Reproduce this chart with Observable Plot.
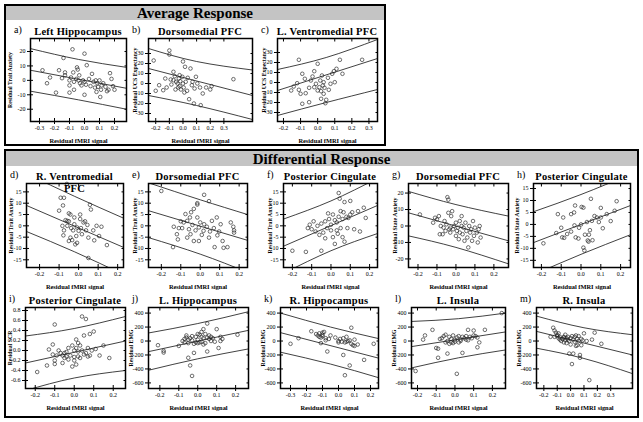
<!DOCTYPE html>
<html><head><meta charset="utf-8">
<script src="https://cdn.jsdelivr.net/npm/d3@7"></script>
<script src="https://cdn.jsdelivr.net/npm/@observablehq/plot@0.6"></script>
<style>
body{margin:0;background:#fff;}
#root{position:relative;width:643px;height:422px;overflow:hidden;font-family:"Liberation Serif","Times New Roman","DejaVu Serif",serif;color:#000;}
.box{position:absolute;border:2px solid #000;box-sizing:border-box;}
.hdr{position:absolute;left:0;right:0;top:0;background:#c4c4c4;text-align:center;font-weight:bold;font-size:15px;}
.ttl{position:absolute;width:130px;font-weight:bold;font-size:10.5px;line-height:12px;text-align:center;white-space:nowrap;letter-spacing:0.25px;z-index:2;}
.lt{position:absolute;font-size:10px;line-height:12px;}
.pan{position:absolute;}
.pan text{font-family:"Liberation Serif","Times New Roman","DejaVu Serif",serif;}
g[aria-label="x-axis label"]{font-weight:bold;font-size:6.4px;}
g[aria-label="y-axis label"]{font-weight:bold;font-size:5.8px;}
</style>
</head><body><div id="root"></div>
<script>
// ---------- data ----------
const headers = ["Average Response", "Differential Response"];
const letters = ["a)","b)","c)","d)","e)","f)","g)","h)","i)","j)","k)","l)","m)"];
const titles = ["Left Hippocampus","Dorsomedial PFC","L. Ventromedial PFC","R. Ventromedial\nPFC","Dorsomedial PFC","Posterior Cingulate","Dorsomedial PFC","Posterior Cingulate","Posterior Cingulate","L. Hippocampus","R. Hippocampus","L. Insula","R. Insula"];
const yLabels = ["Residual Trait Anxiety","Residual UCS Expectancy","Residual UCS Expectancy","Residual Trait Anxiety","Residual Trait Anxiety","Residual Trait Anxiety","Residual State Anxiety","Residual State Anxiety","Residual SCR","Residual EMG","Residual EMG","Residual EMG","Residual EMG"];
const xLabel = "Residual fMRI signal";

const xTicksA = [-0.3,-0.2,-0.1,0,0.1,0.2];
const xTicksB = [-0.2,-0.1,0,0.1,0.2,0.3];
const xTicksC = [-0.2,-0.1,0,0.1,0.2];
const xTicksK = [-0.3,-0.2,-0.1,0,0.1,0.2];
const yTicks20 = [-20,-10,0,10,20];
const yTicks30 = [-30,-20,-10,0,10,20,30];
const yTicks15 = [-15,-10,-5,0,5,10,15];
const yTicksSCR = [-0.6,-0.4,-0.2,0,0.2,0.4,0.6,0.8];
const yTicksEMG = [-600,-400,-200,0,200,400];

const ptsA = [[-0.28,7],[-0.25,-2],[-0.23,2],[-0.19,-8.5],[-0.17,7],[-0.15,1.5],[-0.14,15.5],[-0.13,5.5],[-0.13,3.5],[-0.1,0],[-0.1,-3.5],[-0.1,-8.5],[-0.09,2],[-0.08,21.5],[-0.075,5.5],[-0.07,-1],[-0.07,-6.5],[-0.055,1],[-0.05,9],[-0.045,7.5],[-0.04,0],[-0.035,3.5],[-0.03,-2],[-0.02,-3.5],[-0.01,0],[0,18.5],[0,-1],[0,-10],[0.01,-3],[0.015,10.5],[0.03,1],[0.04,-4],[0.05,4.5],[0.06,-1],[0.07,-5],[0.075,0],[0.08,-8],[0.085,-2],[0.09,-4.5],[0.1,0],[0.105,-11.5],[0.11,-6.5],[0.115,-3.5],[0.125,-2],[0.14,-4.5],[0.15,-7.5],[0.16,-6.5],[0.17,5],[0.18,1],[0.19,-4],[0.2,-6.5]];
const fitA = [[-0.36,7],[0.28,-5.5]];
const upA = [[-0.36,22],[-0.04,14.5],[0.28,9]];
const loA = [[-0.36,-7.5],[-0.04,-13.5],[0.28,-20]];

const ptsB = [[-0.215,23],[-0.2,-7.3],[-0.175,-1.7],[-0.145,-6.7],[-0.13,5],[-0.12,-4],[-0.1,33],[-0.1,29],[-0.09,4],[-0.085,-1],[-0.07,11.7],[-0.07,3.3],[-0.06,7.3],[-0.055,-6],[-0.05,1.7],[-0.04,0],[-0.035,-4],[-0.03,5],[-0.025,-2.7],[-0.025,8.3],[-0.02,2.3],[-0.015,-6],[-0.005,6.7],[0,0],[0,22],[0.005,-4],[0.01,-9],[0.015,16.7],[0.02,1.7],[0.03,-7.3],[0.035,5.7],[0.045,-15.7],[0.055,15],[0.065,-1.7],[0.07,1.7],[0.08,-20],[0.085,-5],[0.095,6.7],[0.105,0],[0.125,-4],[0.13,-21.7],[0.145,-10],[0.17,-4],[0.2,-6],[0.21,-2.7],[0.37,4.3]];
const fitB = [[-0.253,15],[0.51,-12]];
const upB = [[-0.253,35],[0.1,22],[0.51,13.5]];
const loB = [[-0.253,-12],[0.1,-22],[0.51,-36]];

const ptsC = [[-0.11,22.7],[-0.09,8.7],[-0.075,3.7],[-0.14,-4],[-0.11,-7.3],[-0.1,-11.3],[-0.07,-10.7],[-0.05,-5.3],[-0.04,2],[-0.03,6],[-0.02,11.3],[-0.01,-1.3],[0,18.7],[0.01,-4.7],[0.015,2],[0.02,-8.7],[0.025,7],[0.03,-3],[0.035,-11.3],[0.035,0.3],[0.04,-5.3],[0.05,-17.3],[0.06,4.7],[0.065,-7.3],[0.075,-1.3],[0.085,8.7],[0.095,11.3],[0.1,0.3],[0.11,13.7],[0.13,22.7],[0.145,8.7],[0.26,22.7],[-0.09,-21.3],[-0.05,-19.7],[0,-8],[-0.02,-4.7],[0.02,-16.3],[0.045,-20.7],[-0.12,-0.7],[-0.155,-8]];
const fitC = [[-0.235,-8],[0.35,24]];
const upC = [[-0.235,13],[0.05,25],[0.35,43]];
const loC = [[-0.235,-33],[0.05,-20],[0.35,-7]];

const ptsD = [[-0.06,18.5],[-0.092,12.4],[-0.075,12.4],[-0.08,9],[-0.1,6.7],[-0.05,5.5],[-0.042,5],[-0.067,2.5],[-0.058,2.2],[-0.083,0],[-0.075,-2],[-0.078,-4.2],[-0.05,2],[-0.038,-1],[-0.028,-2],[-0.022,0.7],[-0.042,-5.2],[-0.05,-6.7],[-0.033,-6.3],[-0.012,-4.5],[-0.008,-7.5],[0.008,5],[0.008,3],[0.012,-1],[0.017,-3.7],[0.025,1.5],[0.033,2],[0.038,-2],[0.045,0.4],[0.05,-5.2],[0.058,9.3],[0.063,7.2],[0.075,-2],[0.08,-6.4],[0.092,0],[0.105,-4.5],[0.117,-0.4],[0.145,-8.5],[0.05,-14.2],[-0.008,-0.7],[0,-2.2],[-0.022,3.7],[-0.058,0],[-0.017,-8.2]];
const fitD = [[-0.267,9],[0.23,-9.5]];
const upD = [[-0.267,23],[-0.02,13],[0.23,3.4]];
const loD = [[-0.267,-2.5],[-0.02,-11.5],[0.23,-21.5]];

const ptsE = [[-0.2,15.4],[0.02,13.7],[-0.015,10],[-0.015,9.4],[0.045,10.9],[-0.047,6],[-0.033,7.5],[-0.053,3.7],[-0.076,5.2],[-0.067,2.2],[-0.085,1.5],[-0.1,2],[-0.11,-1],[-0.136,-0.4],[-0.115,-6],[-0.14,-9.4],[-0.12,-3.7],[-0.058,-1.5],[-0.05,-3.7],[-0.04,0.4],[-0.024,-2],[-0.015,3.7],[-0.007,-0.7],[0,1.5],[0.008,-4],[0.017,-2.2],[0.02,0.7],[0.034,-0.4],[0.045,-5.2],[0.05,-2.5],[0.06,2.2],[0.07,-1],[0.085,3.7],[0.088,-4.2],[0.097,-2.5],[0.105,0.7],[0.115,-6.7],[0.12,-9.7],[0.14,-9.4],[0.157,1.5],[0.17,-0.4],[0.174,-2],[0.174,-3],[0.074,-9.4],[-0.007,-6.7],[-0.067,-5.2],[-0.093,-1],[-0.033,-6.7]];
const fitE = [[-0.266,6.7],[0.243,-6.4]];
const upE = [[-0.266,19],[0,11.5],[0.243,5]];
const loE = [[-0.266,-5.2],[0,-12.5],[0.243,-20.5]];

const ptsF = [[-0.2,-11],[-0.13,-11.5],[-0.12,-1],[-0.11,0.5],[-0.1,-1.5],[-0.08,-2.5],[-0.07,0],[-0.06,-4],[-0.05,1],[-0.04,-3],[-0.03,2],[-0.02,-1],[-0.01,3],[0,-2],[0,0.5],[0.01,5],[0.01,-5],[0.02,2.5],[0.02,-8],[0.03,1.5],[0.03,-2],[0.04,14.5],[0.04,4],[0.05,-1],[0.05,6.5],[0.06,3],[0.06,-5],[0.07,-7],[0.07,10.5],[0.08,4],[0.09,3.5],[0.1,11],[0.1,5],[0.11,6],[0.12,-1.5],[0.14,6.5],[0.15,-2.5],[0.17,8],[0.18,3.5],[-0.05,-11],[-0.03,-5.5],[-0.09,2],[-0.015,5.5],[0.035,-3.5],[0.045,12],[0.065,6],[0.085,-1]];
const fitF = [[-0.246,-9],[0.241,9]];
const upF = [[-0.246,3],[0,11],[0.241,21]];
const loF = [[-0.246,-21],[0,-11],[0.241,-3.4]];

const ptsG = [[-0.19,7],[-0.12,2],[-0.11,5],[-0.1,4],[-0.09,6],[-0.085,-5],[-0.08,0],[-0.07,-5],[-0.065,-1],[-0.06,3],[-0.055,-3],[-0.05,1],[-0.045,17.5],[-0.04,16],[-0.04,8],[-0.035,-2],[-0.03,-1],[-0.03,-4],[-0.025,6],[-0.02,9],[-0.015,-2],[-0.01,0],[0,2],[0,-6],[0.005,-3],[0.01,-1],[0.015,-8],[0.02,3],[0.02,-4],[0.03,6],[0.03,0],[0.035,-5],[0.04,-1],[0.045,-9],[0.05,2],[0.055,-3],[0.06,-7],[0.065,-13],[0.07,0],[0.075,-4],[0.08,-2],[0.085,-9],[0.09,3],[0.095,-6],[0.1,-1],[0.11,-4],[0.12,-2],[0.125,0],[0.13,-7],[0.115,-10]];
const fitG = [[-0.25,8],[0.277,-9]];
const upG = [[-0.25,21],[0,13],[0.277,6]];
const loG = [[-0.25,-6],[0,-13],[0.277,-23]];

const ptsH = [[-0.19,-7.9],[-0.117,4.3],[-0.09,2.9],[-0.125,-3.6],[-0.1,-1.4],[-0.095,-5.4],[-0.085,-5.6],[-0.07,-4],[-0.05,-3],[-0.05,4.3],[-0.035,5],[-0.033,-0.4],[-0.03,7.9],[-0.027,-5.4],[-0.013,-5.9],[-0.01,-1.4],[0,0],[0.003,7.3],[0.012,7],[0.012,-9.7],[0.017,-10.9],[0.02,-4.3],[0.03,1],[0.034,-6.7],[0.038,-7.2],[0.04,-4.3],[0.045,-2.4],[0.05,10.7],[0.055,1.5],[0.058,-6.6],[0.068,3.5],[0.08,2.9],[0.09,1],[0.1,2.9],[0.1,6.9],[0.11,-1.6],[0.13,4.3],[0.15,1.4],[0.17,5.7],[0.18,9.7]];
const fitH = [[-0.24,-7.6],[0.25,7.9]];
const upH = [[-0.24,5.3],[0,12.5],[0.25,21]];
const loH = [[-0.24,-21],[0,-12.5],[0.25,-4.3]];

const ptsI = [[-0.19,-0.43],[-0.14,-0.3],[-0.13,0.02],[-0.11,0.12],[-0.11,-0.08],[-0.1,0.52],[-0.1,-0.2],[-0.1,-0.27],[-0.09,-0.1],[-0.08,0],[-0.07,-0.05],[-0.06,-0.1],[-0.06,-0.25],[-0.05,-0.15],[-0.04,-0.03],[-0.04,-0.12],[-0.03,0.05],[-0.03,-0.18],[-0.02,-0.1],[-0.01,0.1],[-0.01,-0.32],[0,0],[0,-0.13],[0.01,0.22],[0.01,0.05],[0.01,-0.28],[0.02,0.15],[0.02,-0.12],[0.03,0.1],[0.03,-0.15],[0.04,0],[0.04,0.68],[0.05,0.3],[0.05,-0.08],[0.06,0.63],[0.06,-0.05],[0.07,0.05],[0.07,-0.12],[0.08,0.33],[0.08,-0.1],[0.09,0],[0.1,0.38],[0.11,0.03],[0.13,-0.1],[0.15,0.1],[0.18,-0.15],[0,-0.2],[-0.05,-0.05],[0.02,-0.02]];
const fitI = [[-0.25,-0.25],[0.263,0.19]];
const upI = [[-0.25,0.29],[0,0.44],[0.263,0.68]];
const loI = [[-0.25,-0.8],[0,-0.55],[0.263,-0.4]];

const ptsJ = [[-0.21,-60],[-0.18,-140],[-0.18,-165],[-0.1,-70],[-0.08,0],[-0.07,30],[-0.07,-20],[-0.06,80],[-0.06,50],[-0.05,-30],[-0.05,20],[-0.05,-240],[-0.04,40],[-0.04,-350],[-0.03,-500],[-0.03,10],[-0.02,-170],[-0.02,-40],[-0.01,60],[-0.01,-20],[0,100],[0,20],[0.01,90],[0.01,-20],[0.02,130],[0.02,60],[0.02,-10],[0.03,170],[0.03,40],[0.04,100],[0.04,-30],[0.05,250],[0.05,50],[0.05,-150],[0.06,80],[0.06,30],[0.07,60],[0.07,0],[0.08,40],[0.09,-10],[0.1,170],[0.11,-100],[0.12,60],[0.12,0],[0.13,30],[0.21,90],[-0.03,70],[0,-30],[0.03,-50]];
const fitJ = [[-0.26,-152],[0.268,153]];
const upJ = [[-0.26,115],[0,250],[0.268,420]];
const loJ = [[-0.26,-419],[0,-255],[0.268,-113]];

const ptsK = [[-0.3,-40],[-0.25,40],[-0.17,140],[-0.14,100],[-0.13,80],[-0.12,60],[-0.12,110],[-0.11,50],[-0.11,-30],[-0.1,90],[-0.1,120],[-0.1,70],[-0.09,130],[-0.08,10],[-0.08,40],[-0.07,-150],[-0.06,30],[-0.05,80],[0,0],[0,-20],[0.02,-10],[0.03,40],[0.03,-200],[0.04,-490],[0.05,-10],[0.05,60],[0.06,0],[0.07,10],[0.07,-350],[0.08,190],[0.08,-40],[0.09,-60],[0.1,20],[0.1,-70],[0.12,-50],[0.16,-270],[0.22,-40],[0.01,30],[-0.02,50],[0.04,-20]];
const fitK = [[-0.3625,120],[0.25,-245]];
const upK = [[-0.3625,400],[-0.05,200],[0.25,35]];
const loK = [[-0.3625,-160],[-0.05,-330],[0.25,-525]];

const ptsL = [[-0.21,-430],[-0.17,20],[-0.16,80],[-0.12,160],[-0.1,-100],[-0.09,-110],[-0.09,-240],[-0.08,30],[-0.07,40],[-0.06,70],[-0.05,90],[-0.05,-20],[-0.04,-180],[-0.04,0],[-0.03,60],[-0.03,-40],[-0.02,30],[-0.01,-30],[-0.01,80],[0,-10],[0,20],[0.01,-470],[0.01,50],[0.02,-20],[0.02,70],[0.03,20],[0.03,0],[0.04,-170],[0.04,60],[0.05,40],[0.06,70],[0.07,10],[0.07,160],[0.08,60],[0.09,40],[0.1,80],[0.1,150],[0.11,70],[0.12,-90],[0.12,50],[0.13,-20],[0.16,160],[0.25,400],[-0.02,-20],[0.06,20]];
const fitL = [[-0.232,-80],[0.27,130]];
const upL = [[-0.232,280],[0.02,320],[0.27,400]];
const loL = [[-0.232,-385],[0.02,-240],[0.27,-128]];

const ptsM = [[-0.13,190],[-0.12,150],[-0.12,60],[-0.11,120],[-0.1,90],[-0.1,70],[-0.09,40],[-0.09,110],[-0.08,20],[-0.08,60],[-0.07,0],[-0.06,30],[-0.05,-20],[-0.05,50],[-0.04,10],[-0.04,90],[-0.03,40],[-0.03,-30],[-0.02,20],[-0.02,60],[-0.01,0],[-0.01,-180],[0,40],[0,-50],[0.01,-330],[0.01,70],[0.02,20],[0.02,-180],[0.03,-10],[0.03,60],[0.04,80],[0.04,-70],[0.05,30],[0.05,-60],[0.06,70],[0.06,0],[0.07,-200],[0.07,-240],[0.08,30],[0.08,-60],[0.09,10],[0.1,110],[0.12,0],[0.14,-560],[0.16,20],[0.18,120],[0.23,-40],[-0.15,60],[-0.05,60]];
const fitM = [[-0.255,138],[0.463,-200]];
const upM = [[-0.255,357],[0.1,190],[0.463,90]];
const loM = [[-0.255,-103],[0.1,-250],[0.463,-467]];

// ---------- layout ----------
const root = document.getElementById("root");
function addDiv(cls, css, html) {
  const d = document.createElement("div");
  d.className = cls; Object.assign(d.style, css); if (html != null) d.innerHTML = html;
  root.appendChild(d); return d;
}
const boxTop = addDiv("box", {left:"4px", top:"4px", width:"382px", height:"142px"});
const h1 = document.createElement("div"); h1.className = "hdr"; h1.textContent = headers[0];
Object.assign(h1.style, {height:"14px", lineHeight:"15px"}); boxTop.appendChild(h1);
const boxBot = addDiv("box", {left:"4px", top:"149px", width:"635px", height:"269px"});
const h2 = document.createElement("div"); h2.className = "hdr"; h2.textContent = headers[1];
Object.assign(h2.style, {height:"15px", lineHeight:"16px"}); boxBot.appendChild(h2);

const panels = [
  {pts:ptsA, fit:fitA, up:upA, lo:loA, xt:xTicksA, yt:yTicks20, fx:[30,126], fy:[38,121], xd:[-0.36,0.28], yd:[-28.5,29], ylo:23},
  {pts:ptsB, fit:fitB, up:upB, lo:loB, xt:xTicksB, yt:yTicks30, fx:[148,252], fy:[38,121], xd:[-0.253,0.51], yd:[-38,45], ylo:16},
  {pts:ptsC, fit:fitC, up:upC, lo:loC, xt:xTicksB, yt:yTicks30, fx:[277,377], fy:[38,121], xd:[-0.235,0.35], yd:[-39,44], ylo:16},
  {pts:ptsD, fit:fitD, up:upD, lo:loD, xt:xTicksC, yt:yTicks15, fx:[26,123], fy:[183,267], xd:[-0.267,0.23], yd:[-18.4,18.7], ylo:18},
  {pts:ptsE, fit:fitE, up:upE, lo:loE, xt:xTicksC, yt:yTicks15, fx:[148,247], fy:[183,267], xd:[-0.266,0.243], yd:[-18.4,18.7], ylo:16},
  {pts:ptsF, fit:fitF, up:upF, lo:loF, xt:xTicksC, yt:yTicks15, fx:[283,377], fy:[183,267], xd:[-0.246,0.241], yd:[-18.4,18.7], ylo:16},
  {pts:ptsG, fit:fitG, up:upG, lo:loG, xt:xTicksC, yt:yTicks20, fx:[408,508], fy:[183,267], xd:[-0.25,0.277], yd:[-25.2,25.8], ylo:16},
  {pts:ptsH, fit:fitH, up:upH, lo:loH, xt:xTicksC, yt:yTicks15, fx:[533,630], fy:[183,267], xd:[-0.24,0.25], yd:[-18,17.1], ylo:19},
  {pts:ptsI, fit:fitI, up:upI, lo:loI, xt:xTicksC, yt:yTicksSCR, fx:[25,125], fy:[307,388], xd:[-0.25,0.263], yd:[-0.76,0.86], ylo:18, yf:1},
  {pts:ptsJ, fit:fitJ, up:upJ, lo:loJ, xt:xTicksC, yt:yTicksEMG, fx:[148,248], fy:[307,388], xd:[-0.26,0.268], yd:[-680,480], ylo:20},
  {pts:ptsK, fit:fitK, up:upK, lo:loK, xt:xTicksK, yt:yTicksEMG, fx:[280,378], fy:[307,388], xd:[-0.3625,0.25], yd:[-680,480], ylo:20},
  {pts:ptsL, fit:fitL, up:upL, lo:loL, xt:xTicksC, yt:yTicksEMG, fx:[411,505], fy:[307,388], xd:[-0.232,0.27], yd:[-680,480], ylo:20},
  {pts:ptsM, fit:fitM, up:upM, lo:loM, xt:xTicksB, yt:yTicksEMG, fx:[536,632], fy:[307,388], xd:[-0.255,0.463], yd:[-680,480], ylo:20}
];
const titleTop = [26,26,26,171,171,171,171,171,295,295,295,295,295];

const xy = {x: d => d[0], y: d => d[1]};
const lineStyle = {stroke: "#111", strokeWidth: 0.8, clip: true};
const blank = () => "";
const serif = "'Liberation Serif','Times New Roman','DejaVu Serif',serif";
panels.forEach((p, i) => {
  const ml = 40, mr = 6, mt = 6, mb = 26;
  const W = p.fx[1] - p.fx[0], H = p.fy[1] - p.fy[0];
  const yfmt = p.yf ? (d => d.toFixed(1)) : (d => String(d));
  const svg = Plot.plot({
    width: W + ml + mr, height: H + mt + mb,
    marginLeft: ml, marginRight: mr, marginTop: mt, marginBottom: mb,
    x: {domain: p.xd}, y: {domain: p.yd},
    style: {fontFamily: serif, fontSize: "6px", background: "none", overflow: "visible"},
    marks: [
      Plot.line(p.fit, {...xy, ...lineStyle}),
      Plot.line(p.up, {...xy, ...lineStyle, curve: "natural"}),
      Plot.line(p.lo, {...xy, ...lineStyle, curve: "natural"}),
      Plot.dot(p.pts, {...xy, r: 1.8, stroke: "#222", strokeWidth: 0.65, fill: "none"}),
      Plot.frame({stroke: "#000", strokeWidth: 1.5}),
      Plot.axisX(p.xt, {anchor: "bottom", tickSize: 6, dy: -3, tickFormat: blank, label: null}),
      Plot.axisX(p.xt, {anchor: "top", tickSize: 2.5, dy: 2.5, tickFormat: blank, label: null}),
      Plot.axisY(p.yt, {anchor: "left", tickSize: 6, dx: 3, tickFormat: blank, label: null}),
      Plot.axisY(p.yt, {anchor: "right", tickSize: 2.5, dx: -2.5, tickFormat: blank, label: null}),
      Plot.axisX(p.xt, {anchor: "bottom", tickSize: 0, tickPadding: 4, tickFormat: d => d.toFixed(1), label: xLabel, labelAnchor: "center", labelArrow: "none", labelOffset: 21}),
      Plot.axisY(p.yt, {anchor: "left", tickSize: 0, tickPadding: 5, tickFormat: yfmt, label: yLabels[i], labelAnchor: "center", labelArrow: "none", labelOffset: p.ylo})
    ]
  });
  svg.classList.add("pan");
  svg.style.position = "absolute";
  svg.style.left = (p.fx[0] - ml) + "px";
  svg.style.top = (p.fy[0] - mt) + "px";
  root.appendChild(svg);
  const cx = (p.fx[0] + p.fx[1]) / 2;
  addDiv("ttl", {left: (cx - 65) + "px", top: titleTop[i] + "px"}, titles[i].replace("\n", "<br>"));
  addDiv("lt", {left: (p.fx[0] - 16) + "px", top: (titleTop[i] - 2) + "px"}, letters[i]);
});
</script>
</body></html>
